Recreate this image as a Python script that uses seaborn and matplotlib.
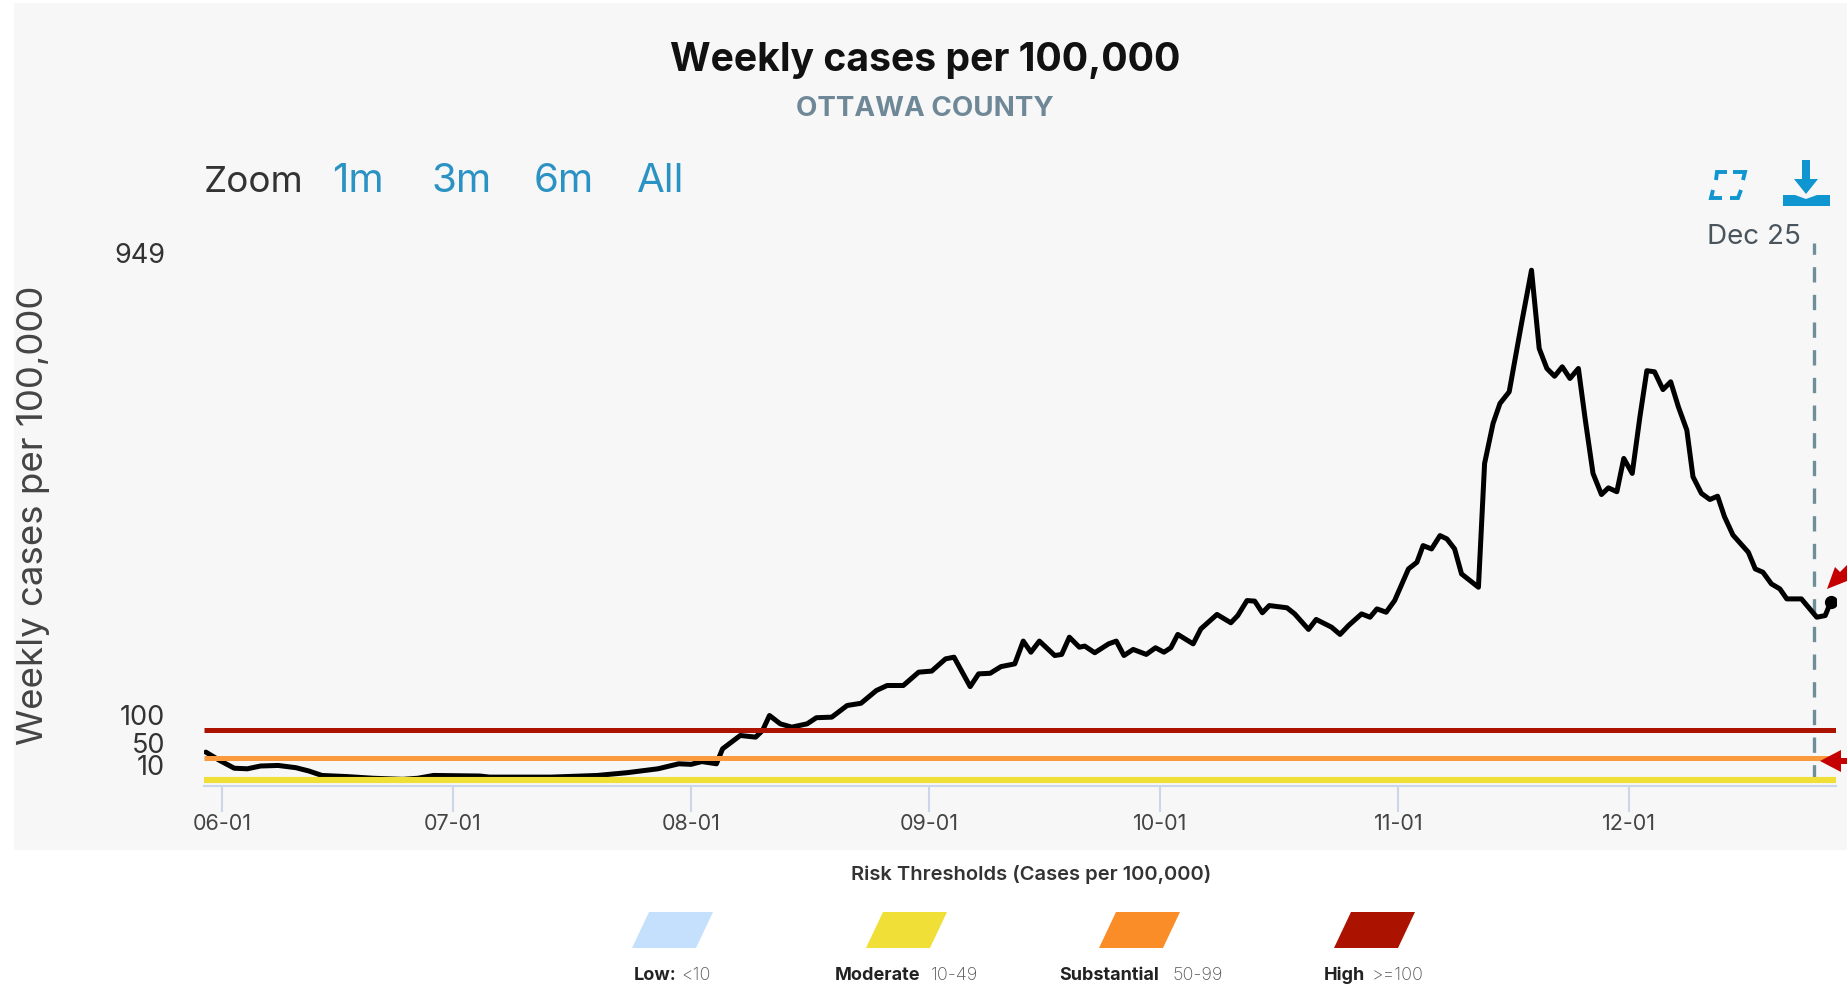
import pandas as pd
import seaborn as sns
import matplotlib.pyplot as plt
from matplotlib.patches import Polygon, Rectangle
from matplotlib.transforms import ScaledTranslation

# day offsets from 1 June
days = [-2.1, -0.3, 1.6, 3.3, 5.0, 7.3, 9.6, 11.3, 13.0, 16.2, 19.6, 23.5, 25.5, 27.5,
        33.5, 34.8, 42.8, 48.8, 52.7, 56.7, 59.4, 61.0, 62.4, 64.3, 65.1, 67.4, 69.4,
        70.3, 71.2, 72.6, 74.1, 76.1, 77.3, 79.3, 81.3, 83.1, 85.1, 86.5, 88.6, 90.6,
        92.3, 94.1, 95.2, 97.3, 98.4, 99.9, 101.3, 103.1, 104.2, 105.2, 106.3, 108.3,
        109.2, 110.2, 111.5, 112.2, 113.5, 115.3, 116.3, 117.3, 118.5, 120.2, 121.4,
        122.5, 123.4, 124.3, 126.3, 127.3, 129.4, 131.2, 132.1, 133.3, 134.3, 135.3,
        136.2, 138.5, 139.5, 141.3, 142.3, 144.3, 145.4, 146.5, 148.2, 149.3, 150.2,
        151.4, 152.5, 154.3, 155.4, 156.2, 157.3, 158.4, 159.3, 160.3, 161.2, 163.4,
        164.2, 165.3, 166.2, 167.4, 169.0, 170.3, 171.3, 172.3, 173.3, 174.3, 175.3,
        176.4, 177.3, 178.3, 179.4, 180.3, 181.4, 182.3, 183.4, 184.4, 185.3, 186.3,
        187.4, 188.4, 189.4, 190.5, 191.3, 192.4, 193.5, 194.5, 195.4, 196.5, 198.5,
        199.4, 200.4, 201.5, 202.6, 203.5, 205.4, 207.4, 208.5, 209.2]
cases = [61, 46, 32, 31, 36, 37, 33, 27, 19, 17, 14, 12, 14, 19,
         18, 16, 16, 19, 24, 31, 40, 39, 44, 40, 67, 91, 88,
         100, 127, 112, 106, 112, 123, 124, 145, 149, 172, 181, 181, 205,
         207, 229, 232, 179, 202, 203, 215, 220, 261, 241, 261, 235,
         237, 268, 250, 252, 240, 256, 261, 235, 246, 237, 249,
         241, 249, 273, 256, 283, 309, 294, 307, 334, 333, 312,
         325, 321, 310, 282, 300, 286, 273, 289, 310, 304, 319,
         313, 334, 391, 403, 433, 427, 451, 445, 427, 382, 358,
         581, 653, 689, 710, 833, 929, 788, 752, 738, 755, 734,
         752, 659, 563, 525, 537, 530, 590, 563, 665, 748, 746,
         714, 728, 683, 641, 557, 527, 516, 522, 485, 452, 421,
         391, 385, 364, 355, 337, 337, 304, 307, 331]

month_ticks = ["2021-06-01", "2021-07-01", "2021-08-01", "2021-09-01", "2021-10-01", "2021-11-01", "2021-12-01"]
month_labels = ["06-01", "07-01", "08-01", "09-01", "10-01", "11-01", "12-01"]
y_ticks = [10, 50, 100, 949]
y_label_shift = [15, 15, 15, 6]  # the labels sit above their lines

threshold_values = [10, 50, 100]
threshold_colors = ["#f0df36", "#fb9a3c", "#ab1200"]
threshold_widths = [4.4, 3.6, 3.6]

legend_colors = ["#c5e0fd", "#f0df36", "#fb8d28", "#ab1200"]
legend_bold = ["Low:", "Moderate", "Substantial", "High"]
legend_range = ["<10", "10-49", "50-99", ">=100"]
legend_left = [632, 866, 1099, 1334]
legend_text_left = [634, 835, 1059, 1324]
legend_text_right = [711, 978, 1223, 1424]
zoom_labels = ["1m", "3m", "6m", "All"]
zoom_x = [358, 462, 564, 661]

W, H = 1847, 986
start = pd.Timestamp("2021-06-01")
df = pd.DataFrame({"date": start + pd.to_timedelta(days, unit="D"), "cases": cases})

sns.set_theme(style="white")
plt.rcParams["font.family"] = ["Inter", "DejaVu Sans"]

fig = plt.figure(figsize=(W / 100, H / 100), dpi=100, facecolor="white")

# overlay in image pixels for panel, titles, buttons and legend
bg = fig.add_axes([0, 0, 1, 1], zorder=0)
bg.set_xlim(0, W)
bg.set_ylim(H, 0)
bg.axis("off")
bg.add_patch(Rectangle((14, 3), W - 14, 847, color="#f7f7f7", lw=0))

# the chart
ax = fig.add_axes([204 / W, 1 - 786 / H, (1836 - 204) / W, (786 - 243) / H], zorder=1)
ax.patch.set_alpha(0)
sns.lineplot(data=df, x="date", y="cases", color="black", lw=3.6, ax=ax, zorder=2)
ax.plot(df["date"].iloc[-1], df["cases"].iloc[-1], "o", color="black", ms=8.5, zorder=2)
for v, c, w in zip(threshold_values, threshold_colors, threshold_widths):
    ax.axhline(v, color=c, lw=w, zorder=3, solid_capstyle="butt")
ax.axvline(start + pd.Timedelta(days=207), ymin=10 / 978, ymax=1, color="#6f8d9b", lw=2.4,
           dashes=(4.6, 3.7), zorder=1)

ax.set_xlim(start + pd.Timedelta(days=-2.34), start + pd.Timedelta(days=209.9))
ax.set_ylim(0, 978)
ax.set_xlabel("")
ax.set_ylabel("")
sns.despine(ax=ax, left=True, top=True, right=True)
ax.spines["bottom"].set_color("#ccd6eb")
ax.spines["bottom"].set_linewidth(1.5)
ax.set_xticks(pd.to_datetime(month_ticks))
ax.set_xticklabels(month_labels)
ax.tick_params(axis="x", length=19, width=1.5, color="#ccd6eb", labelsize=15.5, labelcolor="#444444", pad=1, bottom=True)
ax.set_yticks(y_ticks)
ax.set_yticklabels([str(v) for v in y_ticks])
ax.tick_params(axis="y", length=0, labelsize=19.5, labelcolor="#333333", pad=28)
for lab, s in zip(ax.get_yticklabels(), y_label_shift):
    lab.set_transform(lab.get_transform() + ScaledTranslation(0, s / 100, fig.dpi_scale_trans))

# text and buttons sit on a top overlay
top = fig.add_axes([0, 0, 1, 1], zorder=2)
top.set_xlim(0, W)
top.set_ylim(H, 0)
top.axis("off")
top.patch.set_alpha(0)

top.text(925, 60.5, "Weekly cases per 100,000", ha="center", va="center", fontsize=28.2, fontweight="bold", color="#111111")
top.text(925, 109, "OTTAWA COUNTY", ha="center", va="center", fontsize=20, fontweight="bold", color="#6f8898")
top.text(34, 515, "Weekly cases per 100,000", rotation=90, ha="center", va="center", fontsize=26.4, color="#444444")
top.text(204, 183, "Zoom", ha="left", va="center", fontsize=26.5, color="#333333")
for t, x in zip(zoom_labels, zoom_x):
    top.text(x, 182, t, ha="center", va="center", fontsize=29, color="#2b93c4")
top.text(1754, 237, "Dec 25", ha="center", va="center", fontsize=20, color="#49545c")

# fullscreen button
blue = "#0f95cf"
for pts in ([(1716, 180), (1717, 172), (1727, 172)], [(1733, 172), (1745, 172), (1743, 180)],
            [(1741, 190), (1738, 198), (1730, 198)], [(1713, 190), (1711, 198), (1722, 198)]):
    top.plot(*zip(*pts), color=blue, lw=2.8, solid_joinstyle="miter", solid_capstyle="butt")
# download button
top.add_patch(Polygon([(1802, 160), (1810, 160), (1810, 179), (1818, 179), (1806, 194), (1794, 179), (1802, 179)],
                      color=blue, lw=0))
top.add_patch(Polygon([(1783, 195), (1795, 195), (1806, 199), (1817, 195), (1830, 195), (1830, 206), (1783, 206)],
                      color=blue, lw=0))

# red arrows running off the edge
red = "#c40000"
top.add_patch(Polygon([(1820, 761), (1841, 750), (1841, 758), (1847, 758), (1847, 764), (1841, 764), (1841, 772)],
                      color=red, lw=0))
top.add_patch(Polygon([(1827, 589), (1835, 567), (1840, 572), (1847, 565), (1847, 581)],
                      color=red, lw=0))

# legend
top.text(1031, 875, "Risk Thresholds (Cases per 100,000)", ha="center", va="center", fontsize=14.5,
         fontweight="semibold", color="#333333")
for x, c in zip(legend_left, legend_colors):
    top.add_patch(Polygon([(x, 948), (x + 17, 912), (x + 81, 912), (x + 64, 948)], color=c, lw=0))
for b, r, x0, x1 in zip(legend_bold, legend_range, legend_text_left, legend_text_right):
    top.text(x0, 975, b, ha="left", va="center", fontsize=13, fontweight="bold", color="#222222")
    top.text(x1, 975, r, ha="right", va="center", fontsize=13, fontweight="light", color="#555555")

plt.savefig("out.png", dpi=100)
